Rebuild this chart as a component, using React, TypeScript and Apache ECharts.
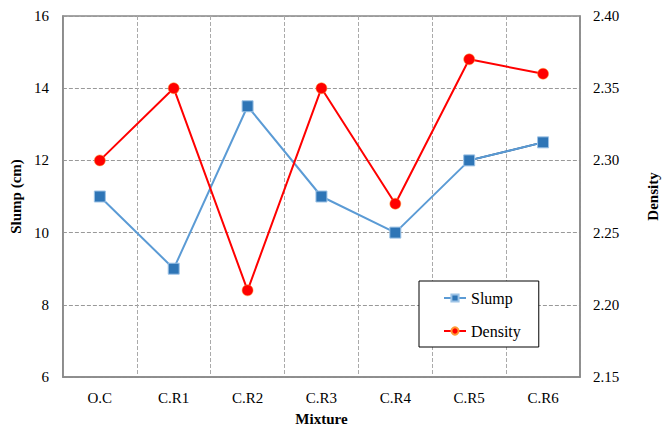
import React, { useEffect, useRef } from "react";
import * as echarts from "echarts";

const categories = ["O.C", "C.R1", "C.R2", "C.R3", "C.R4", "C.R5", "C.R6"];
const slumpValues = [11, 9, 13.5, 11, 10, 12, 12.5];
const densityValues = [2.3, 2.35, 2.21, 2.35, 2.27, 2.37, 2.36];
const slumpTicks = { min: 6, max: 16, interval: 2 };
const densityTicks = { min: 2.15, max: 2.4, interval: 0.05 };

const FONT = "Liberation Serif";

export default function App() {
  const ref = useRef<HTMLDivElement>(null);
  useEffect(() => {
    if (!ref.current) return;
    const chart = echarts.init(ref.current, undefined, { renderer: "svg" });
    chart.setOption({
      animation: false,
      backgroundColor: "#ffffff",
      textStyle: { fontFamily: FONT },
      grid: {
        left: 59,
        right: 83,
        top: 16,
        bottom: 48,
        show: true,
        borderColor: "#888888",
        borderWidth: 1.5,
        containLabel: false,
      },
      legend: {
        data: ["Slump", "Density"],
        orient: "vertical",
        left: 419,
        top: 281,
        padding: [9, 18, 8, 24],
        itemGap: 17,
        itemWidth: 22,
        itemHeight: 9,
        borderColor: "#000000",
        borderWidth: 1,
        backgroundColor: "#ffffff",
        textStyle: { fontFamily: FONT, fontSize: 16, color: "#000" },
      },
      xAxis: {
        type: "category",
        data: categories,
        name: "Mixture",
        nameLocation: "middle",
        nameGap: 34,
        nameTextStyle: { fontFamily: FONT, fontSize: 15, fontWeight: "bold", color: "#000" },
        axisLine: { lineStyle: { color: "#888888", width: 1.5 } },
        axisTick: { show: false },
        axisLabel: { fontFamily: FONT, fontSize: 15, color: "#000", margin: 13 },
        splitLine: { show: true, lineStyle: { type: "dashed", color: "#aaaaaa", width: 1 } },
      },
      yAxis: [
        {
          type: "value",
          min: slumpTicks.min,
          max: slumpTicks.max,
          interval: slumpTicks.interval,
          name: "Slump (cm)",
          nameLocation: "middle",
          nameGap: 33,
          nameRotate: 90,
          nameTextStyle: { fontFamily: FONT, fontSize: 15, fontWeight: "bold", color: "#000" },
          axisLine: { show: true, lineStyle: { color: "#888888", width: 1.5 } },
          axisTick: { show: false },
          axisLabel: { fontFamily: FONT, fontSize: 15, color: "#000", margin: 14 },
          splitLine: { show: true, lineStyle: { type: "dashed", color: "#999999", width: 1 } },
        },
        {
          type: "value",
          min: densityTicks.min,
          max: densityTicks.max,
          interval: densityTicks.interval,
          name: "Density",
          nameLocation: "middle",
          nameGap: 65,
          nameRotate: 90,
          nameTextStyle: { fontFamily: FONT, fontSize: 15, fontWeight: "bold", color: "#000" },
          axisLine: { show: true, lineStyle: { color: "#888888", width: 1.5 } },
          axisTick: { show: false },
          axisLabel: {
            fontFamily: FONT,
            fontSize: 15,
            color: "#000",
            margin: 13,
            formatter: (v: number) => v.toFixed(2),
          },
          splitLine: { show: false },
        },
      ],
      series: [
        {
          name: "Slump",
          type: "line",
          yAxisIndex: 0,
          data: slumpValues,
          symbol: "rect",
          symbolSize: 11,
          itemStyle: { color: "#2e75b6", borderColor: "#9dc3e6", borderWidth: 1 },
          lineStyle: { color: "#5b9bd5", width: 2 },
          z: 3,
        },
        {
          name: "SlumpTail",
          type: "line",
          yAxisIndex: 0,
          data: slumpValues.map((v, i) => (i >= 5 ? v : null)),
          symbol: "none",
          lineStyle: { color: "#24527f", width: 2 },
          z: 2,
        },
        {
          name: "Density",
          type: "line",
          yAxisIndex: 1,
          data: densityValues,
          symbol: "circle",
          symbolSize: 11,
          itemStyle: { color: "#ff0000", borderColor: "#ff9933", borderWidth: 0.5 },
          lineStyle: { color: "#ff0000", width: 2 },
          z: 4,
        },
      ],
    });
    return () => chart.dispose();
  }, []);
  return (
    <div
      ref={ref}
      style={{ position: "absolute", left: 0, top: 0, width: 668, height: 431 }}
    />
  );
}
